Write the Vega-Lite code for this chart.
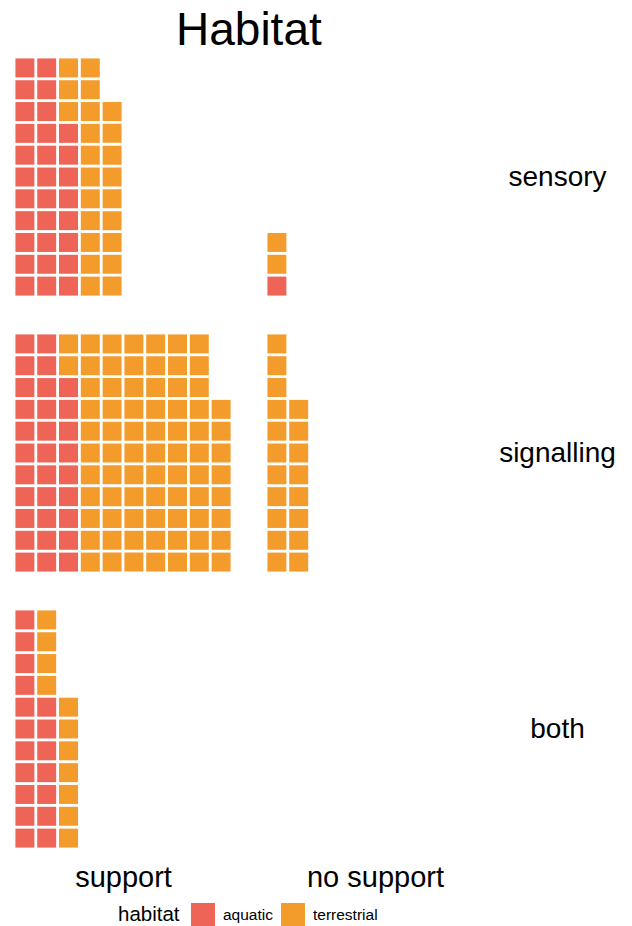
{
  "$schema": "https://vega.github.io/schema/vega-lite/v6.json",
  "padding": {"left": 14, "top": 8, "right": 5, "bottom": 5},
  "background": "white",
  "title": {"text": "Habitat", "fontSize": 46, "fontWeight": "normal", "font": "Liberation Sans", "anchor": "start", "dx": 162, "color": "black", "offset": 2},
  "config": {"view": {"stroke": null}, "font": "Liberation Sans",
    "axis": {"labels": false, "ticks": false, "domain": false, "grid": false, "titleFontWeight": "normal", "titleColor": "black", "titleFont": "Liberation Sans"}},
  "data": {"values": [
    {"type":"sensory","support":"support","habitat":"aquatic","col":1,"row":1},
    {"type":"sensory","support":"support","habitat":"aquatic","col":1,"row":2},
    {"type":"sensory","support":"support","habitat":"aquatic","col":1,"row":3},
    {"type":"sensory","support":"support","habitat":"aquatic","col":1,"row":4},
    {"type":"sensory","support":"support","habitat":"aquatic","col":1,"row":5},
    {"type":"sensory","support":"support","habitat":"aquatic","col":1,"row":6},
    {"type":"sensory","support":"support","habitat":"aquatic","col":1,"row":7},
    {"type":"sensory","support":"support","habitat":"aquatic","col":1,"row":8},
    {"type":"sensory","support":"support","habitat":"aquatic","col":1,"row":9},
    {"type":"sensory","support":"support","habitat":"aquatic","col":1,"row":10},
    {"type":"sensory","support":"support","habitat":"aquatic","col":1,"row":11},
    {"type":"sensory","support":"support","habitat":"aquatic","col":2,"row":1},
    {"type":"sensory","support":"support","habitat":"aquatic","col":2,"row":2},
    {"type":"sensory","support":"support","habitat":"aquatic","col":2,"row":3},
    {"type":"sensory","support":"support","habitat":"aquatic","col":2,"row":4},
    {"type":"sensory","support":"support","habitat":"aquatic","col":2,"row":5},
    {"type":"sensory","support":"support","habitat":"aquatic","col":2,"row":6},
    {"type":"sensory","support":"support","habitat":"aquatic","col":2,"row":7},
    {"type":"sensory","support":"support","habitat":"aquatic","col":2,"row":8},
    {"type":"sensory","support":"support","habitat":"aquatic","col":2,"row":9},
    {"type":"sensory","support":"support","habitat":"aquatic","col":2,"row":10},
    {"type":"sensory","support":"support","habitat":"aquatic","col":2,"row":11},
    {"type":"sensory","support":"support","habitat":"aquatic","col":3,"row":1},
    {"type":"sensory","support":"support","habitat":"aquatic","col":3,"row":2},
    {"type":"sensory","support":"support","habitat":"aquatic","col":3,"row":3},
    {"type":"sensory","support":"support","habitat":"aquatic","col":3,"row":4},
    {"type":"sensory","support":"support","habitat":"aquatic","col":3,"row":5},
    {"type":"sensory","support":"support","habitat":"aquatic","col":3,"row":6},
    {"type":"sensory","support":"support","habitat":"aquatic","col":3,"row":7},
    {"type":"sensory","support":"support","habitat":"aquatic","col":3,"row":8},
    {"type":"sensory","support":"support","habitat":"terrestrial","col":3,"row":9},
    {"type":"sensory","support":"support","habitat":"terrestrial","col":3,"row":10},
    {"type":"sensory","support":"support","habitat":"terrestrial","col":3,"row":11},
    {"type":"sensory","support":"support","habitat":"terrestrial","col":4,"row":1},
    {"type":"sensory","support":"support","habitat":"terrestrial","col":4,"row":2},
    {"type":"sensory","support":"support","habitat":"terrestrial","col":4,"row":3},
    {"type":"sensory","support":"support","habitat":"terrestrial","col":4,"row":4},
    {"type":"sensory","support":"support","habitat":"terrestrial","col":4,"row":5},
    {"type":"sensory","support":"support","habitat":"terrestrial","col":4,"row":6},
    {"type":"sensory","support":"support","habitat":"terrestrial","col":4,"row":7},
    {"type":"sensory","support":"support","habitat":"terrestrial","col":4,"row":8},
    {"type":"sensory","support":"support","habitat":"terrestrial","col":4,"row":9},
    {"type":"sensory","support":"support","habitat":"terrestrial","col":4,"row":10},
    {"type":"sensory","support":"support","habitat":"terrestrial","col":4,"row":11},
    {"type":"sensory","support":"support","habitat":"terrestrial","col":5,"row":1},
    {"type":"sensory","support":"support","habitat":"terrestrial","col":5,"row":2},
    {"type":"sensory","support":"support","habitat":"terrestrial","col":5,"row":3},
    {"type":"sensory","support":"support","habitat":"terrestrial","col":5,"row":4},
    {"type":"sensory","support":"support","habitat":"terrestrial","col":5,"row":5},
    {"type":"sensory","support":"support","habitat":"terrestrial","col":5,"row":6},
    {"type":"sensory","support":"support","habitat":"terrestrial","col":5,"row":7},
    {"type":"sensory","support":"support","habitat":"terrestrial","col":5,"row":8},
    {"type":"sensory","support":"support","habitat":"terrestrial","col":5,"row":9},
    {"type":"sensory","support":"no support","habitat":"aquatic","col":1,"row":1},
    {"type":"sensory","support":"no support","habitat":"terrestrial","col":1,"row":2},
    {"type":"sensory","support":"no support","habitat":"terrestrial","col":1,"row":3},
    {"type":"signalling","support":"support","habitat":"aquatic","col":1,"row":1},
    {"type":"signalling","support":"support","habitat":"aquatic","col":1,"row":2},
    {"type":"signalling","support":"support","habitat":"aquatic","col":1,"row":3},
    {"type":"signalling","support":"support","habitat":"aquatic","col":1,"row":4},
    {"type":"signalling","support":"support","habitat":"aquatic","col":1,"row":5},
    {"type":"signalling","support":"support","habitat":"aquatic","col":1,"row":6},
    {"type":"signalling","support":"support","habitat":"aquatic","col":1,"row":7},
    {"type":"signalling","support":"support","habitat":"aquatic","col":1,"row":8},
    {"type":"signalling","support":"support","habitat":"aquatic","col":1,"row":9},
    {"type":"signalling","support":"support","habitat":"aquatic","col":1,"row":10},
    {"type":"signalling","support":"support","habitat":"aquatic","col":1,"row":11},
    {"type":"signalling","support":"support","habitat":"aquatic","col":2,"row":1},
    {"type":"signalling","support":"support","habitat":"aquatic","col":2,"row":2},
    {"type":"signalling","support":"support","habitat":"aquatic","col":2,"row":3},
    {"type":"signalling","support":"support","habitat":"aquatic","col":2,"row":4},
    {"type":"signalling","support":"support","habitat":"aquatic","col":2,"row":5},
    {"type":"signalling","support":"support","habitat":"aquatic","col":2,"row":6},
    {"type":"signalling","support":"support","habitat":"aquatic","col":2,"row":7},
    {"type":"signalling","support":"support","habitat":"aquatic","col":2,"row":8},
    {"type":"signalling","support":"support","habitat":"aquatic","col":2,"row":9},
    {"type":"signalling","support":"support","habitat":"aquatic","col":2,"row":10},
    {"type":"signalling","support":"support","habitat":"aquatic","col":2,"row":11},
    {"type":"signalling","support":"support","habitat":"aquatic","col":3,"row":1},
    {"type":"signalling","support":"support","habitat":"aquatic","col":3,"row":2},
    {"type":"signalling","support":"support","habitat":"aquatic","col":3,"row":3},
    {"type":"signalling","support":"support","habitat":"aquatic","col":3,"row":4},
    {"type":"signalling","support":"support","habitat":"aquatic","col":3,"row":5},
    {"type":"signalling","support":"support","habitat":"aquatic","col":3,"row":6},
    {"type":"signalling","support":"support","habitat":"aquatic","col":3,"row":7},
    {"type":"signalling","support":"support","habitat":"aquatic","col":3,"row":8},
    {"type":"signalling","support":"support","habitat":"aquatic","col":3,"row":9},
    {"type":"signalling","support":"support","habitat":"terrestrial","col":3,"row":10},
    {"type":"signalling","support":"support","habitat":"terrestrial","col":3,"row":11},
    {"type":"signalling","support":"support","habitat":"terrestrial","col":4,"row":1},
    {"type":"signalling","support":"support","habitat":"terrestrial","col":4,"row":2},
    {"type":"signalling","support":"support","habitat":"terrestrial","col":4,"row":3},
    {"type":"signalling","support":"support","habitat":"terrestrial","col":4,"row":4},
    {"type":"signalling","support":"support","habitat":"terrestrial","col":4,"row":5},
    {"type":"signalling","support":"support","habitat":"terrestrial","col":4,"row":6},
    {"type":"signalling","support":"support","habitat":"terrestrial","col":4,"row":7},
    {"type":"signalling","support":"support","habitat":"terrestrial","col":4,"row":8},
    {"type":"signalling","support":"support","habitat":"terrestrial","col":4,"row":9},
    {"type":"signalling","support":"support","habitat":"terrestrial","col":4,"row":10},
    {"type":"signalling","support":"support","habitat":"terrestrial","col":4,"row":11},
    {"type":"signalling","support":"support","habitat":"terrestrial","col":5,"row":1},
    {"type":"signalling","support":"support","habitat":"terrestrial","col":5,"row":2},
    {"type":"signalling","support":"support","habitat":"terrestrial","col":5,"row":3},
    {"type":"signalling","support":"support","habitat":"terrestrial","col":5,"row":4},
    {"type":"signalling","support":"support","habitat":"terrestrial","col":5,"row":5},
    {"type":"signalling","support":"support","habitat":"terrestrial","col":5,"row":6},
    {"type":"signalling","support":"support","habitat":"terrestrial","col":5,"row":7},
    {"type":"signalling","support":"support","habitat":"terrestrial","col":5,"row":8},
    {"type":"signalling","support":"support","habitat":"terrestrial","col":5,"row":9},
    {"type":"signalling","support":"support","habitat":"terrestrial","col":5,"row":10},
    {"type":"signalling","support":"support","habitat":"terrestrial","col":5,"row":11},
    {"type":"signalling","support":"support","habitat":"terrestrial","col":6,"row":1},
    {"type":"signalling","support":"support","habitat":"terrestrial","col":6,"row":2},
    {"type":"signalling","support":"support","habitat":"terrestrial","col":6,"row":3},
    {"type":"signalling","support":"support","habitat":"terrestrial","col":6,"row":4},
    {"type":"signalling","support":"support","habitat":"terrestrial","col":6,"row":5},
    {"type":"signalling","support":"support","habitat":"terrestrial","col":6,"row":6},
    {"type":"signalling","support":"support","habitat":"terrestrial","col":6,"row":7},
    {"type":"signalling","support":"support","habitat":"terrestrial","col":6,"row":8},
    {"type":"signalling","support":"support","habitat":"terrestrial","col":6,"row":9},
    {"type":"signalling","support":"support","habitat":"terrestrial","col":6,"row":10},
    {"type":"signalling","support":"support","habitat":"terrestrial","col":6,"row":11},
    {"type":"signalling","support":"support","habitat":"terrestrial","col":7,"row":1},
    {"type":"signalling","support":"support","habitat":"terrestrial","col":7,"row":2},
    {"type":"signalling","support":"support","habitat":"terrestrial","col":7,"row":3},
    {"type":"signalling","support":"support","habitat":"terrestrial","col":7,"row":4},
    {"type":"signalling","support":"support","habitat":"terrestrial","col":7,"row":5},
    {"type":"signalling","support":"support","habitat":"terrestrial","col":7,"row":6},
    {"type":"signalling","support":"support","habitat":"terrestrial","col":7,"row":7},
    {"type":"signalling","support":"support","habitat":"terrestrial","col":7,"row":8},
    {"type":"signalling","support":"support","habitat":"terrestrial","col":7,"row":9},
    {"type":"signalling","support":"support","habitat":"terrestrial","col":7,"row":10},
    {"type":"signalling","support":"support","habitat":"terrestrial","col":7,"row":11},
    {"type":"signalling","support":"support","habitat":"terrestrial","col":8,"row":1},
    {"type":"signalling","support":"support","habitat":"terrestrial","col":8,"row":2},
    {"type":"signalling","support":"support","habitat":"terrestrial","col":8,"row":3},
    {"type":"signalling","support":"support","habitat":"terrestrial","col":8,"row":4},
    {"type":"signalling","support":"support","habitat":"terrestrial","col":8,"row":5},
    {"type":"signalling","support":"support","habitat":"terrestrial","col":8,"row":6},
    {"type":"signalling","support":"support","habitat":"terrestrial","col":8,"row":7},
    {"type":"signalling","support":"support","habitat":"terrestrial","col":8,"row":8},
    {"type":"signalling","support":"support","habitat":"terrestrial","col":8,"row":9},
    {"type":"signalling","support":"support","habitat":"terrestrial","col":8,"row":10},
    {"type":"signalling","support":"support","habitat":"terrestrial","col":8,"row":11},
    {"type":"signalling","support":"support","habitat":"terrestrial","col":9,"row":1},
    {"type":"signalling","support":"support","habitat":"terrestrial","col":9,"row":2},
    {"type":"signalling","support":"support","habitat":"terrestrial","col":9,"row":3},
    {"type":"signalling","support":"support","habitat":"terrestrial","col":9,"row":4},
    {"type":"signalling","support":"support","habitat":"terrestrial","col":9,"row":5},
    {"type":"signalling","support":"support","habitat":"terrestrial","col":9,"row":6},
    {"type":"signalling","support":"support","habitat":"terrestrial","col":9,"row":7},
    {"type":"signalling","support":"support","habitat":"terrestrial","col":9,"row":8},
    {"type":"signalling","support":"support","habitat":"terrestrial","col":9,"row":9},
    {"type":"signalling","support":"support","habitat":"terrestrial","col":9,"row":10},
    {"type":"signalling","support":"support","habitat":"terrestrial","col":9,"row":11},
    {"type":"signalling","support":"support","habitat":"terrestrial","col":10,"row":1},
    {"type":"signalling","support":"support","habitat":"terrestrial","col":10,"row":2},
    {"type":"signalling","support":"support","habitat":"terrestrial","col":10,"row":3},
    {"type":"signalling","support":"support","habitat":"terrestrial","col":10,"row":4},
    {"type":"signalling","support":"support","habitat":"terrestrial","col":10,"row":5},
    {"type":"signalling","support":"support","habitat":"terrestrial","col":10,"row":6},
    {"type":"signalling","support":"support","habitat":"terrestrial","col":10,"row":7},
    {"type":"signalling","support":"support","habitat":"terrestrial","col":10,"row":8},
    {"type":"signalling","support":"no support","habitat":"terrestrial","col":1,"row":1},
    {"type":"signalling","support":"no support","habitat":"terrestrial","col":1,"row":2},
    {"type":"signalling","support":"no support","habitat":"terrestrial","col":1,"row":3},
    {"type":"signalling","support":"no support","habitat":"terrestrial","col":1,"row":4},
    {"type":"signalling","support":"no support","habitat":"terrestrial","col":1,"row":5},
    {"type":"signalling","support":"no support","habitat":"terrestrial","col":1,"row":6},
    {"type":"signalling","support":"no support","habitat":"terrestrial","col":1,"row":7},
    {"type":"signalling","support":"no support","habitat":"terrestrial","col":1,"row":8},
    {"type":"signalling","support":"no support","habitat":"terrestrial","col":1,"row":9},
    {"type":"signalling","support":"no support","habitat":"terrestrial","col":1,"row":10},
    {"type":"signalling","support":"no support","habitat":"terrestrial","col":1,"row":11},
    {"type":"signalling","support":"no support","habitat":"terrestrial","col":2,"row":1},
    {"type":"signalling","support":"no support","habitat":"terrestrial","col":2,"row":2},
    {"type":"signalling","support":"no support","habitat":"terrestrial","col":2,"row":3},
    {"type":"signalling","support":"no support","habitat":"terrestrial","col":2,"row":4},
    {"type":"signalling","support":"no support","habitat":"terrestrial","col":2,"row":5},
    {"type":"signalling","support":"no support","habitat":"terrestrial","col":2,"row":6},
    {"type":"signalling","support":"no support","habitat":"terrestrial","col":2,"row":7},
    {"type":"signalling","support":"no support","habitat":"terrestrial","col":2,"row":8},
    {"type":"both","support":"support","habitat":"aquatic","col":1,"row":1},
    {"type":"both","support":"support","habitat":"aquatic","col":1,"row":2},
    {"type":"both","support":"support","habitat":"aquatic","col":1,"row":3},
    {"type":"both","support":"support","habitat":"aquatic","col":1,"row":4},
    {"type":"both","support":"support","habitat":"aquatic","col":1,"row":5},
    {"type":"both","support":"support","habitat":"aquatic","col":1,"row":6},
    {"type":"both","support":"support","habitat":"aquatic","col":1,"row":7},
    {"type":"both","support":"support","habitat":"aquatic","col":1,"row":8},
    {"type":"both","support":"support","habitat":"aquatic","col":1,"row":9},
    {"type":"both","support":"support","habitat":"aquatic","col":1,"row":10},
    {"type":"both","support":"support","habitat":"aquatic","col":1,"row":11},
    {"type":"both","support":"support","habitat":"aquatic","col":2,"row":1},
    {"type":"both","support":"support","habitat":"aquatic","col":2,"row":2},
    {"type":"both","support":"support","habitat":"aquatic","col":2,"row":3},
    {"type":"both","support":"support","habitat":"aquatic","col":2,"row":4},
    {"type":"both","support":"support","habitat":"aquatic","col":2,"row":5},
    {"type":"both","support":"support","habitat":"aquatic","col":2,"row":6},
    {"type":"both","support":"support","habitat":"aquatic","col":2,"row":7},
    {"type":"both","support":"support","habitat":"terrestrial","col":2,"row":8},
    {"type":"both","support":"support","habitat":"terrestrial","col":2,"row":9},
    {"type":"both","support":"support","habitat":"terrestrial","col":2,"row":10},
    {"type":"both","support":"support","habitat":"terrestrial","col":2,"row":11},
    {"type":"both","support":"support","habitat":"terrestrial","col":3,"row":1},
    {"type":"both","support":"support","habitat":"terrestrial","col":3,"row":2},
    {"type":"both","support":"support","habitat":"terrestrial","col":3,"row":3},
    {"type":"both","support":"support","habitat":"terrestrial","col":3,"row":4},
    {"type":"both","support":"support","habitat":"terrestrial","col":3,"row":5},
    {"type":"both","support":"support","habitat":"terrestrial","col":3,"row":6},
    {"type":"both","support":"support","habitat":"terrestrial","col":3,"row":7}
  ]},
  "spacing": 36,
  "vconcat": [
    {"spacing": 34, "hconcat": [
      {"width": 218, "height": 240, "transform": [{"filter": "datum.type == 'sensory' && datum.support == 'support'"}],
       "mark": {"type": "rect"},
       "encoding": {
         "x": {"field": "col", "type": "ordinal", "axis": null, "scale": {"domain": [1,2,3,4,5,6,7,8,9,10], "paddingInner": 0.13, "paddingOuter": 0.065}},
         "y": {"field": "row", "type": "ordinal", "axis": null, "scale": {"domain": [11,10,9,8,7,6,5,4,3,2,1], "paddingInner": 0.13, "paddingOuter": 0.065}},
         "color": {"field": "habitat", "type": "nominal", "scale": {"domain": ["aquatic", "terrestrial"], "range": ["#EE6558", "#F39C2B"]},
           "legend": {"orient": "none", "legendX": 104, "legendY": 846, "direction": "horizontal", "titleOrient": "left", "title": "habitat", "symbolType": "square", "symbolSize": 576, "symbolStrokeWidth": 0, "symbolOpacity": 1, "titleFontSize": 20.5, "titleFontWeight": "normal", "titleColor": "black", "titleFont": "Liberation Sans", "titlePadding": 11, "labelFontSize": 15.5, "labelColor": "black", "labelFont": "Liberation Sans", "labelOffset": 8, "columnPadding": 8}}}},
      {"width": 218, "height": 240, "transform": [{"filter": "datum.type == 'sensory' && datum.support == 'no support'"}],
       "mark": {"type": "rect"},
       "encoding": {
         "x": {"field": "col", "type": "ordinal", "axis": null, "scale": {"domain": [1,2,3,4,5,6,7,8,9,10], "paddingInner": 0.13, "paddingOuter": 0.065}},
         "y": {"field": "row", "type": "ordinal", "scale": {"domain": [11,10,9,8,7,6,5,4,3,2,1], "paddingInner": 0.13, "paddingOuter": 0.065},
           "axis": {"orient": "right", "title": "sensory", "titleAngle": 0, "titleAlign": "center", "titleBaseline": "middle", "titleFontSize": 28, "titlePadding": 73}},
         "color": {"field": "habitat", "type": "nominal", "scale": {"domain": ["aquatic", "terrestrial"], "range": ["#EE6558", "#F39C2B"]},
           "legend": {"orient": "none", "legendX": 104, "legendY": 846, "direction": "horizontal", "titleOrient": "left", "title": "habitat", "symbolType": "square", "symbolSize": 576, "symbolStrokeWidth": 0, "symbolOpacity": 1, "titleFontSize": 20.5, "titleFontWeight": "normal", "titleColor": "black", "titleFont": "Liberation Sans", "titlePadding": 11, "labelFontSize": 15.5, "labelColor": "black", "labelFont": "Liberation Sans", "labelOffset": 8, "columnPadding": 8}}}}
    ], "resolve": {"scale": {"x": "independent", "y": "independent"}, "axis": {"x": "independent", "y": "independent"}}},
    {"spacing": 34, "hconcat": [
      {"width": 218, "height": 240, "transform": [{"filter": "datum.type == 'signalling' && datum.support == 'support'"}],
       "mark": {"type": "rect"},
       "encoding": {
         "x": {"field": "col", "type": "ordinal", "axis": null, "scale": {"domain": [1,2,3,4,5,6,7,8,9,10], "paddingInner": 0.13, "paddingOuter": 0.065}},
         "y": {"field": "row", "type": "ordinal", "axis": null, "scale": {"domain": [11,10,9,8,7,6,5,4,3,2,1], "paddingInner": 0.13, "paddingOuter": 0.065}},
         "color": {"field": "habitat", "type": "nominal", "scale": {"domain": ["aquatic", "terrestrial"], "range": ["#EE6558", "#F39C2B"]},
           "legend": {"orient": "none", "legendX": 104, "legendY": 846, "direction": "horizontal", "titleOrient": "left", "title": "habitat", "symbolType": "square", "symbolSize": 576, "symbolStrokeWidth": 0, "symbolOpacity": 1, "titleFontSize": 20.5, "titleFontWeight": "normal", "titleColor": "black", "titleFont": "Liberation Sans", "titlePadding": 11, "labelFontSize": 15.5, "labelColor": "black", "labelFont": "Liberation Sans", "labelOffset": 8, "columnPadding": 8}}}},
      {"width": 218, "height": 240, "transform": [{"filter": "datum.type == 'signalling' && datum.support == 'no support'"}],
       "mark": {"type": "rect"},
       "encoding": {
         "x": {"field": "col", "type": "ordinal", "axis": null, "scale": {"domain": [1,2,3,4,5,6,7,8,9,10], "paddingInner": 0.13, "paddingOuter": 0.065}},
         "y": {"field": "row", "type": "ordinal", "scale": {"domain": [11,10,9,8,7,6,5,4,3,2,1], "paddingInner": 0.13, "paddingOuter": 0.065},
           "axis": {"orient": "right", "title": "signalling", "titleAngle": 0, "titleAlign": "center", "titleBaseline": "middle", "titleFontSize": 28, "titlePadding": 73}},
         "color": {"field": "habitat", "type": "nominal", "scale": {"domain": ["aquatic", "terrestrial"], "range": ["#EE6558", "#F39C2B"]},
           "legend": {"orient": "none", "legendX": 104, "legendY": 846, "direction": "horizontal", "titleOrient": "left", "title": "habitat", "symbolType": "square", "symbolSize": 576, "symbolStrokeWidth": 0, "symbolOpacity": 1, "titleFontSize": 20.5, "titleFontWeight": "normal", "titleColor": "black", "titleFont": "Liberation Sans", "titlePadding": 11, "labelFontSize": 15.5, "labelColor": "black", "labelFont": "Liberation Sans", "labelOffset": 8, "columnPadding": 8}}}}
    ], "resolve": {"scale": {"x": "independent", "y": "independent"}, "axis": {"x": "independent", "y": "independent"}}},
    {"spacing": 34, "hconcat": [
      {"width": 218, "height": 240, "transform": [{"filter": "datum.type == 'both' && datum.support == 'support'"}],
       "mark": {"type": "rect"},
       "encoding": {
         "x": {"field": "col", "type": "ordinal", "scale": {"domain": [1,2,3,4,5,6,7,8,9,10], "paddingInner": 0.13, "paddingOuter": 0.065},
           "axis": {"title": "support", "titleFontSize": 29, "titlePadding": 14, "titleBaseline": "top"}},
         "y": {"field": "row", "type": "ordinal", "axis": null, "scale": {"domain": [11,10,9,8,7,6,5,4,3,2,1], "paddingInner": 0.13, "paddingOuter": 0.065}},
         "color": {"field": "habitat", "type": "nominal", "scale": {"domain": ["aquatic", "terrestrial"], "range": ["#EE6558", "#F39C2B"]},
           "legend": {"orient": "none", "legendX": 104, "legendY": 846, "direction": "horizontal", "titleOrient": "left", "title": "habitat", "symbolType": "square", "symbolSize": 576, "symbolStrokeWidth": 0, "symbolOpacity": 1, "titleFontSize": 20.5, "titleFontWeight": "normal", "titleColor": "black", "titleFont": "Liberation Sans", "titlePadding": 11, "labelFontSize": 15.5, "labelColor": "black", "labelFont": "Liberation Sans", "labelOffset": 8, "columnPadding": 8}}}},
      {"width": 218, "height": 240, "transform": [{"filter": "datum.type == 'both' && datum.support == 'no support'"}],
       "mark": {"type": "rect"},
       "encoding": {
         "x": {"field": "col", "type": "ordinal", "scale": {"domain": [1,2,3,4,5,6,7,8,9,10], "paddingInner": 0.13, "paddingOuter": 0.065},
           "axis": {"title": "no support", "titleFontSize": 29, "titlePadding": 14, "titleBaseline": "top"}},
         "y": {"field": "row", "type": "ordinal", "scale": {"domain": [11,10,9,8,7,6,5,4,3,2,1], "paddingInner": 0.13, "paddingOuter": 0.065},
           "axis": {"orient": "right", "title": "both", "titleAngle": 0, "titleAlign": "center", "titleBaseline": "middle", "titleFontSize": 28, "titlePadding": 73}},
         "color": {"field": "habitat", "type": "nominal", "scale": {"domain": ["aquatic", "terrestrial"], "range": ["#EE6558", "#F39C2B"]},
           "legend": {"orient": "none", "legendX": 104, "legendY": 846, "direction": "horizontal", "titleOrient": "left", "title": "habitat", "symbolType": "square", "symbolSize": 576, "symbolStrokeWidth": 0, "symbolOpacity": 1, "titleFontSize": 20.5, "titleFontWeight": "normal", "titleColor": "black", "titleFont": "Liberation Sans", "titlePadding": 11, "labelFontSize": 15.5, "labelColor": "black", "labelFont": "Liberation Sans", "labelOffset": 8, "columnPadding": 8}}}}
    ], "resolve": {"scale": {"x": "independent", "y": "independent"}, "axis": {"x": "independent", "y": "independent"}}}
  ]
}
